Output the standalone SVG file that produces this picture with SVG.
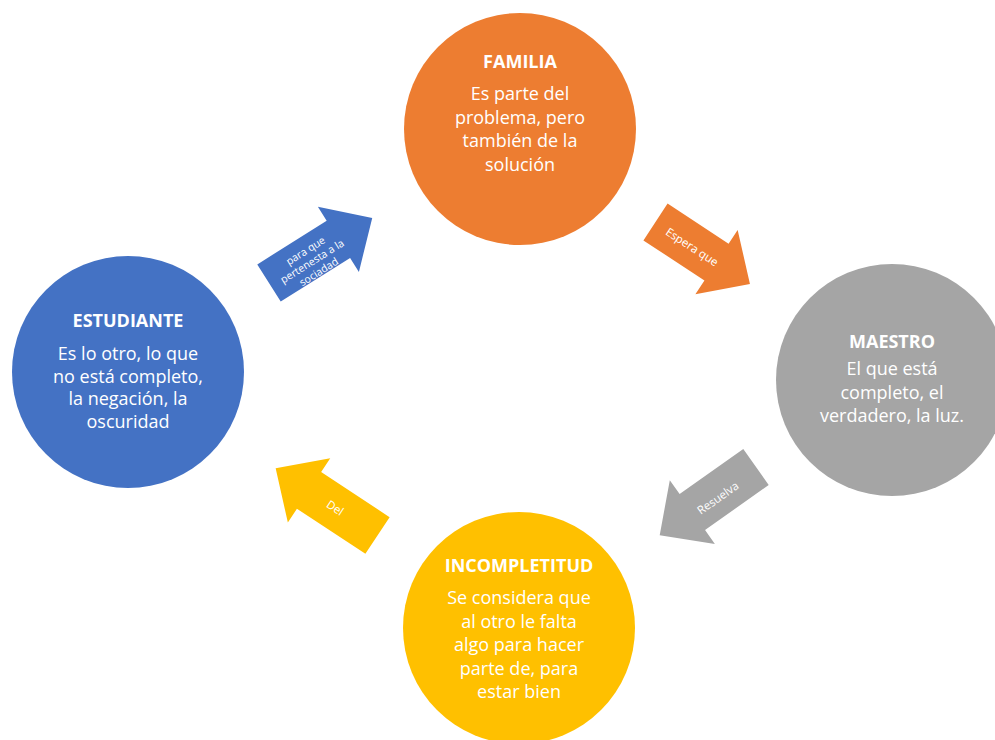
<svg xmlns="http://www.w3.org/2000/svg" width="995" height="740" viewBox="0 0 995 740">
<style>
.title{font-family:"Open Sans","Liberation Sans",sans-serif;font-weight:bold;font-size:18px;fill:#fff;text-anchor:middle}
.body{font-family:"Open Sans","Liberation Sans",sans-serif;font-size:18px;fill:#fff;text-anchor:middle}
.lbl{font-family:"Open Sans","Liberation Sans",sans-serif;font-size:11.5px;fill:#fff;text-anchor:middle}
.lbls{font-family:"Open Sans","Liberation Sans",sans-serif;font-size:10.5px;fill:#fff;text-anchor:middle}
</style>
<rect width="995" height="740" fill="#fff"/>
<g id="connectors">
  <g id="arrow-estudiante-familia" transform="translate(269,283) rotate(-32.2)">
    <polygon points="0,-22 82,-22 82,-38.5 122,0 82,38.5 82,22 0,22" fill="#4472C4"/>
  </g>
  <g id="arrow-familia-maestro" transform="translate(655.5,222) rotate(33.3)">
    <polygon points="0,-22 73,-22 73,-38.5 113,0 73,38.5 73,22 0,22" fill="#ED7D31"/>
  </g>
  <g id="arrow-maestro-incompletitud" transform="translate(756,467) rotate(144.7)">
    <polygon points="0,-22 78,-22 78,-39 118,0 78,39 78,22 0,22" fill="#A5A5A5"/>
  </g>
  <g id="arrow-incompletitud-estudiante" transform="translate(377.5,535.5) rotate(213.4)">
    <polygon points="0,-22 82,-22 82,-38.5 122,0 82,38.5 82,22 0,22" fill="#FFC000"/>
  </g>
  <g transform="translate(312,261) rotate(-32)">
    <text class="lbls" x="0" y="-8.5">para que</text>
    <text class="lbls" x="0" y="4">pertenesta a la</text>
    <text class="lbls" x="0" y="16.5">sociadad</text>
  </g>
  <text class="lbl" transform="translate(692,247) rotate(33)" x="0" y="4">Espera que</text>
  <text class="lbl" transform="translate(718,498) rotate(-35)" x="0" y="4">Resuelva</text>
  <text class="lbl" transform="translate(335,508) rotate(33)" x="0" y="4">Del</text>
</g>
<g id="familia">
  <circle cx="520" cy="129" r="116" fill="#ED7D31"/>
  <text class="title" x="520" y="68">FAMILIA</text>
  <text class="body" x="520" y="100">Es parte del</text>
  <text class="body" x="520" y="123.5">problema, pero</text>
  <text class="body" x="520" y="147">también de la</text>
  <text class="body" x="520" y="170.5">solución</text>
</g>
<g id="estudiante">
  <circle cx="128" cy="372" r="116" fill="#4472C4"/>
  <text class="title" x="128" y="327">ESTUDIANTE</text>
  <text class="body" x="128" y="360">Es lo otro, lo que</text>
  <text class="body" x="128" y="382.7">no está completo,</text>
  <text class="body" x="128" y="405.3">la negación, la</text>
  <text class="body" x="128" y="428">oscuridad</text>
</g>
<g id="maestro">
  <circle cx="892" cy="380" r="116" fill="#A5A5A5"/>
  <text class="title" x="892" y="348">MAESTRO</text>
  <text class="body" x="892" y="375">El que está</text>
  <text class="body" x="892" y="398.5">completo, el</text>
  <text class="body" x="892" y="422">verdadero, la luz.</text>
</g>
<g id="incompletitud">
  <circle cx="519" cy="628" r="116" fill="#FFC000"/>
  <text class="title" x="519" y="572">INCOMPLETITUD</text>
  <text class="body" x="519" y="604">Se considera que</text>
  <text class="body" x="519" y="627.5">al otro le falta</text>
  <text class="body" x="519" y="651">algo para hacer</text>
  <text class="body" x="519" y="674.5">parte de, para</text>
  <text class="body" x="519" y="698">estar bien</text>
</g>
</svg>
